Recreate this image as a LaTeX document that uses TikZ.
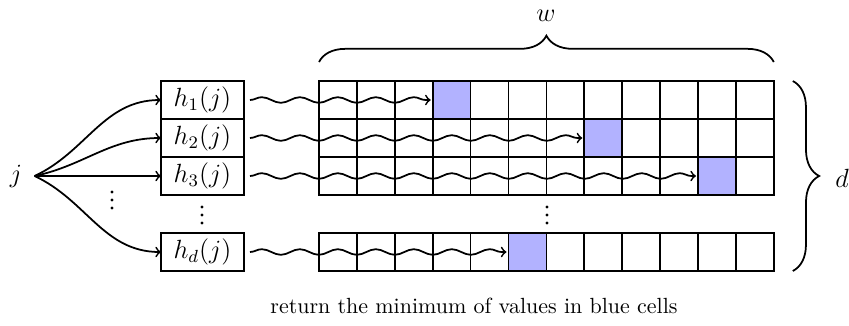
\documentclass[tikz,border=0pt]{standalone}
\usetikzlibrary{decorations.pathmorphing,decorations.pathreplacing,calc}
\begin{document}
\begin{tikzpicture}[x=0.016cm,y=-0.016cm,
  cell/.style={draw,thick,minimum width=0.6064cm,minimum height=0.608cm,inner sep=0pt,outer sep=0pt},
  hit-1-4/.style={fill=blue!30},
  hit-2-8/.style={fill=blue!30},
  hit-3-11/.style={fill=blue!30},
  hit-d-6/.style={fill=blue!30},
  hbox/.style={draw,thick,minimum width=1.328cm,minimum height=0.608cm,inner sep=0pt,outer sep=0pt,font=\large},
  wave/.style={thick,->,decorate,decoration={snake,segment length=0.608cm,amplitude=0.045cm}},
  fan/.style={thick,->},
  lbl/.style={font=\large},
  dotmark/.style={fill=black},
  bracestyle/.style={thick,decorate,decoration={brace,amplitude=12pt}}]
\useasboundingbox (0,0) rectangle (849,325);
% grid of cells
\foreach \r/\y in {1/100,2/138,3/176,d/252}{
  \foreach \k in {1,...,12}{
    \node[cell,hit-\r-\k/.try] (c-\r-\k) at ({319+37.9*(\k-0.5)},\y) {};
  }
}
% hash boxes
\node[hbox] (h1) at (202.5,100) {$h_1(j)$};
\node[hbox] (h2) at (202.5,138) {$h_2(j)$};
\node[hbox] (h3) at (202.5,176) {$h_3(j)$};
\node[hbox] (hd) at (202.5,252) {$h_d(j)$};
% input
\node[lbl,inner xsep=5.5pt] (j) at (16,176) {$j$};
\draw[fan] (j.east) to[out=25,in=180] (h1.west);
\draw[fan] (j.east) to[out=12,in=180] (h2.west);
\draw[fan] (j.east) -- (h3.west);
\draw[fan] (j.east) to[out=-25,in=180] (hd.west);
% vertical dots
\foreach \x/\y in {112/192, 202/207, 547/207}{
  \foreach \i in {0,1,2}
    \fill[dotmark] (\x,{\y+8*\i}) circle (0.75pt);
}
% wavy arrows
\draw[wave] ($(h1.east)+(6,0)$) -- ($(c-1-4.west)+(-2,0)$);
\draw[wave] ($(h2.east)+(6,0)$) -- ($(c-2-8.west)+(-2,0)$);
\draw[wave] ($(h3.east)+(6,0)$) -- ($(c-3-11.west)+(-2,0)$);
\draw[wave] ($(hd.east)+(6,0)$) -- ($(c-d-6.west)+(-2,0)$);
% braces
\draw[bracestyle] ($(c-1-1.north west)+(0,-19)$) -- ($(c-1-12.north east)+(0,-19)$);
\node[lbl] (w) at (546,16) {$w$};
\draw[bracestyle] ($(c-1-12.north east)+(19,0)$) -- ($(c-d-12.south east)+(19,0)$);
\node[lbl] (d) at (842,178) {$d$};
% caption
\node (caption) at (474,306) {return the minimum of values in blue cells};
\end{tikzpicture}
\end{document}
